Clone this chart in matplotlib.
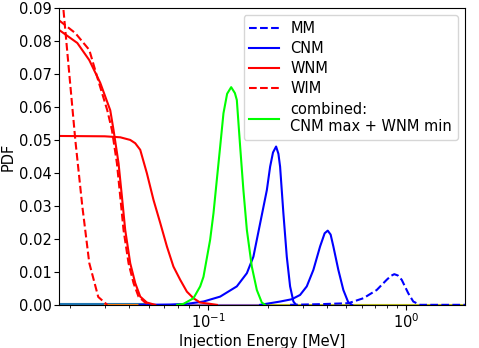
import matplotlib
matplotlib.use("Agg")
import matplotlib.pyplot as plt

# energies in MeV, pdf values
mm_e = [0.2595, 0.3679, 0.5112, 0.6086, 0.7112, 0.7989, 0.8400, 0.8729, 0.9100, 0.9512,
        1.0271, 1.0887, 1.1770, 1.99]
mm_p = [0.0, 0.0002, 0.0005, 0.002, 0.0045, 0.0076, 0.0088, 0.0093, 0.0089, 0.0076,
        0.0035, 0.001, 0.0, 0.0]

cnm1_e = [0.0450, 0.0643, 0.0781, 0.0947, 0.1150, 0.1396, 0.1569, 0.1693, 0.1980, 0.2057,
          0.2127, 0.2205, 0.2265, 0.2310, 0.2400, 0.2497, 0.2595, 0.2697, 0.2783]
cnm1_p = [0.0, 0.0001, 0.0003, 0.001, 0.0025, 0.0056, 0.0096, 0.0146, 0.0348, 0.0419,
          0.0462, 0.048, 0.0458, 0.0419, 0.0278, 0.0146, 0.0056, 0.001, 0.0]
cnm2_e = [0.1830, 0.2310, 0.2647, 0.2915, 0.3151, 0.3403, 0.3679, 0.3880, 0.4022, 0.4160,
          0.4294, 0.4550, 0.4824, 0.5112, 0.5337]
cnm2_p = [0.0, 0.001, 0.0017, 0.003, 0.0056, 0.0106, 0.0177, 0.0217, 0.0225, 0.0213,
          0.0177, 0.0106, 0.0045, 0.0007, 0.0]

wnm1_e = [0.01768, 0.02180, 0.02506, 0.02848, 0.03199, 0.03324, 0.03524, 0.03665, 0.03808,
          0.04037, 0.04279, 0.04535, 0.04900, 0.05399]
wnm1_p = [0.0833, 0.0794, 0.0742, 0.0673, 0.059, 0.053, 0.0429, 0.0328, 0.0227, 0.0126,
          0.0066, 0.0025, 0.0007, 0.0]
wnm2_e = [0.01768, 0.03000, 0.03594, 0.04037, 0.04279, 0.04535, 0.04900, 0.05293, 0.05726,
          0.06186, 0.06675, 0.07221, 0.07806, 0.08427, 0.09112, 0.1023, 0.1106]
wnm2_p = [0.0512, 0.0511, 0.0508, 0.050, 0.049, 0.047, 0.0399, 0.0318, 0.0248, 0.0177,
          0.0116, 0.0076, 0.004, 0.002, 0.0007, 0.0003, 0.0]

wim1_e = [0.01768, 0.02130, 0.02506, 0.02782, 0.03090, 0.03263, 0.03458, 0.03594, 0.03734,
          0.03959, 0.04195, 0.04446, 0.04804, 0.05094]
wim1_p = [0.0862, 0.0824, 0.0773, 0.068, 0.059, 0.053, 0.0429, 0.0328, 0.0227, 0.0126,
          0.0066, 0.0025, 0.0007, 0.0]
wim2_e = [0.01820, 0.02130, 0.02310, 0.02506, 0.02782, 0.03090]
wim2_p = [0.095, 0.050, 0.030, 0.0127, 0.0024, 0.0]

comb_e = [0.06970, 0.07504, 0.08427, 0.09112, 0.09469, 0.1023, 0.1064, 0.1106, 0.1150,
          0.1195, 0.1247, 0.1307, 0.1365, 0.1396, 0.1451, 0.1507, 0.1569, 0.1662, 0.1762,
          0.1867, 0.1941]
comb_p = [0.0, 0.0003, 0.002, 0.0056, 0.0085, 0.0197, 0.0278, 0.0379, 0.048,
          0.0581, 0.0640, 0.066, 0.0642, 0.0621, 0.048, 0.0348, 0.0227, 0.0116, 0.0045,
          0.0007, 0.0]

# flat near-zero curves along the bottom
base_e = [[0.0177, 0.05], [0.03, 0.05], [0.08, 0.19], [0.19, 1.99]]
base_p = [[0.0002, 0.0002], [0.0001, 0.0001], [0.0001, 0.0001], [0.0001, 0.0001]]
base_c = ["C0", "C1", "C4", "C8"]

plt.rcParams["font.size"] = 10.5

fig = plt.figure(figsize=(4.79, 3.48), dpi=100)
ax = fig.add_axes([0.124, 0.124, 0.847, 0.853])

for e, p, c in zip(base_e, base_p, base_c):
    ax.plot(e, p, color=c, lw=1.5)

ax.plot(mm_e, mm_p, "b--", label="MM")
ax.plot(cnm1_e, cnm1_p, "b-", label="CNM")
ax.plot(cnm2_e, cnm2_p, "b-")
ax.plot(wnm1_e, wnm1_p, "r-", label="WNM")
ax.plot(wnm2_e, wnm2_p, "r-")
ax.plot(wim1_e, wim1_p, "r--", label="WIM")
ax.plot(wim2_e, wim2_p, "r--")
ax.plot(comb_e, comb_p, color="lime", label="combined:\nCNM max + WNM min")

ax.set_xscale("log")
ax.set_xlim(0.0177, 1.99)
ax.set_ylim(0, 0.09)
ax.tick_params(labelsize=10.5, pad=2)
ax.set_xlabel("Injection Energy [MeV]", labelpad=2)
ax.set_ylabel("PDF", labelpad=2)
ax.legend(loc="upper right", fontsize=10.5, labelspacing=0.35)

fig.savefig("out.png", dpi=100)
